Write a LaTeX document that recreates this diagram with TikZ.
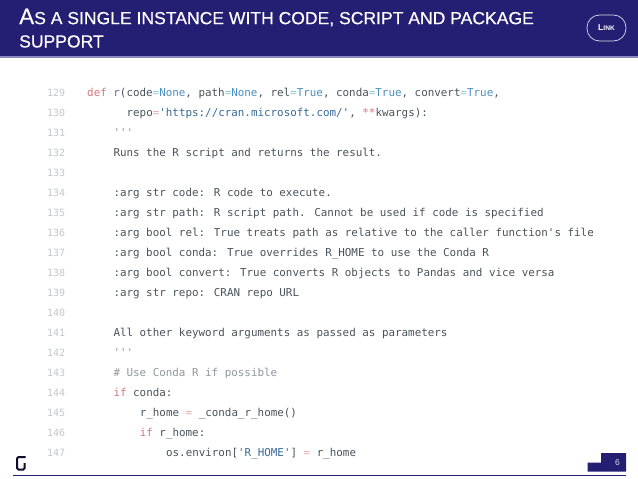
\documentclass[tikz,border=0pt]{standalone}
\usepackage{fontspec}
\setmainfont{Liberation Sans}
\newfontfamily\codefont{DejaVu Sans Mono}
\newfontfamily\titlefont[FakeBold=0.35]{Liberation Sans}
\definecolor{navy}{HTML}{241F73}
\definecolor{rule}{HTML}{8C8ABD}
\definecolor{codetext}{HTML}{4A545C}
\definecolor{numtext}{HTML}{C4C8CB}
\definecolor{kw}{HTML}{D9777B}
\definecolor{fn}{HTML}{7A62AE}
\definecolor{const}{HTML}{4C8FC0}
\definecolor{opr}{HTML}{8CCBDC}
\definecolor{opp}{HTML}{EDA8AC}
\definecolor{strc}{HTML}{3A6A96}
\definecolor{cmt}{HTML}{8F979E}
\newcommand{\K}[1]{\textcolor{kw}{#1}}
\newcommand{\Fn}[1]{\textcolor{fn}{#1}}
\newcommand{\C}[1]{\textcolor{const}{#1}}
\newcommand{\Op}[1]{\textcolor{opr}{#1}}
\newcommand{\Pk}[1]{\textcolor{opp}{#1}}
\newcommand{\St}[1]{\textcolor{strc}{#1}}
\newcommand{\Cm}[1]{\textcolor{cmt}{#1}}
\newcommand{\TA}[1]{{\fontsize{22.5}{22.5}\selectfont #1}}
\tikzset{
  x=1pt,y=-1pt,
  code/.style={anchor=base west,inner sep=0pt,text=codetext,font=\codefont\fontsize{10.88}{12}\selectfont},
  num/.style={anchor=base west,inner sep=0pt,text=numtext,font=\codefont\fontsize{10}{12}\selectfont},
  title/.style={anchor=base west,inner sep=0pt,text=white,font=\titlefont\fontsize{17.55}{18}\selectfont},
}
\begin{document}
\begin{tikzpicture}
\useasboundingbox (0,0) rectangle (638,479);
\fill[white] (0,0) rectangle (638,479);
\fill[navy] (0,0) rectangle (638,56.3);
\fill[rule] (0,56.3) rectangle (638,57.5);
\node[title] (t1) at (19,24.2) {\TA{A}S A SINGLE INSTANCE WITH CODE, SCRIPT AND PACKAGE};
\node[title] (t2) at (19,47.5) {SUPPORT};
\node[draw=white!85!navy,line width=0.7pt,rounded corners=12.5pt,minimum width=39pt,minimum height=26pt,inner sep=0pt,text=white,font=\bfseries\fontsize{8.5}{8}\selectfont] (link) at (606.5,28) {L{\fontsize{6.6}{6}\selectfont INK}};
\node[num] (n129) at (47,96) {129};
\node[num] (n130) at (47,116) {130};
\node[num] (n131) at (47,136) {131};
\node[num] (n132) at (47,156) {132};
\node[num] (n133) at (47,176) {133};
\node[num] (n134) at (47,196) {134};
\node[num] (n135) at (47,216) {135};
\node[num] (n136) at (47,236) {136};
\node[num] (n137) at (47,256) {137};
\node[num] (n138) at (47,276) {138};
\node[num] (n139) at (47,296) {139};
\node[num] (n140) at (47,316) {140};
\node[num] (n141) at (47,336) {141};
\node[num] (n142) at (47,356) {142};
\node[num] (n143) at (47,376) {143};
\node[num] (n144) at (47,396) {144};
\node[num] (n145) at (47,416) {145};
\node[num] (n146) at (47,436) {146};
\node[num] (n147) at (47,456) {147};
\node[code] (c129) at (87,96) {\K{def} \Fn{r}(code\Op{=}\C{None}, path\Op{=}\C{None}, rel\Op{=}\C{True}, conda\Op{=}\C{True}, convert\Op{=}\C{True},};
\node[code] (c130) at (126.4,116) {repo\Pk{=}\St{'https://cran.microsoft.com/'}, \K{**}kwargs):};
\node[code] (c131) at (113.3,136) {\Cm{'{}'{}'}};
\node[code] (c132) at (113.3,156) {Runs the R script and returns the result.};
\node[code] (c134) at (113.3,196) {:arg str code: R code to execute.};
\node[code] (c135) at (113.3,216) {:arg str path: R script path. Cannot be used if code is specified};
\node[code] (c136) at (113.3,236) {:arg bool rel: True treats path as relative to the caller function's file};
\node[code] (c137) at (113.3,256) {:arg bool conda: True overrides R\_HOME to use the Conda R};
\node[code] (c138) at (113.3,276) {:arg bool convert: True converts R objects to Pandas and vice versa};
\node[code] (c139) at (113.3,296) {:arg str repo: CRAN repo URL};
\node[code] (c141) at (113.3,336) {All other keyword arguments as passed as parameters};
\node[code] (c142) at (113.3,356) {\Cm{'{}'{}'}};
\node[code] (c143) at (113.3,376) {\Cm{\# Use Conda R if possible}};
\node[code] (c144) at (113.3,396) {\K{if} conda:};
\node[code] (c145) at (139.6,416) {r\_home \Pk{=} \_conda\_r\_home()};
\node[code] (c146) at (139.6,436) {\K{if} r\_home:};
\node[code] (c147) at (165.9,456) {os.environ[\St{'R\_HOME'}] \Pk{=} r\_home};
% footer
\draw[navy,line width=0.8pt] (13,475) -- (626,475);
\fill[navy] (601,453) -- (626,453) -- (626,471.7) -- (587.5,471.7) -- (587.5,462.5) -- (601,462.5) -- cycle;
\node[inner sep=0pt,text=white!85!navy,font=\fontsize{8.5}{8}\selectfont] (pg) at (617.5,463) {6};
\draw[black!60!navy,line width=2pt,rounded corners=1.5pt] (25.7,457) -- (17,457) -- (17,469.5) -- (24.7,469.5) -- (24.7,463);
\end{tikzpicture}
\end{document}
